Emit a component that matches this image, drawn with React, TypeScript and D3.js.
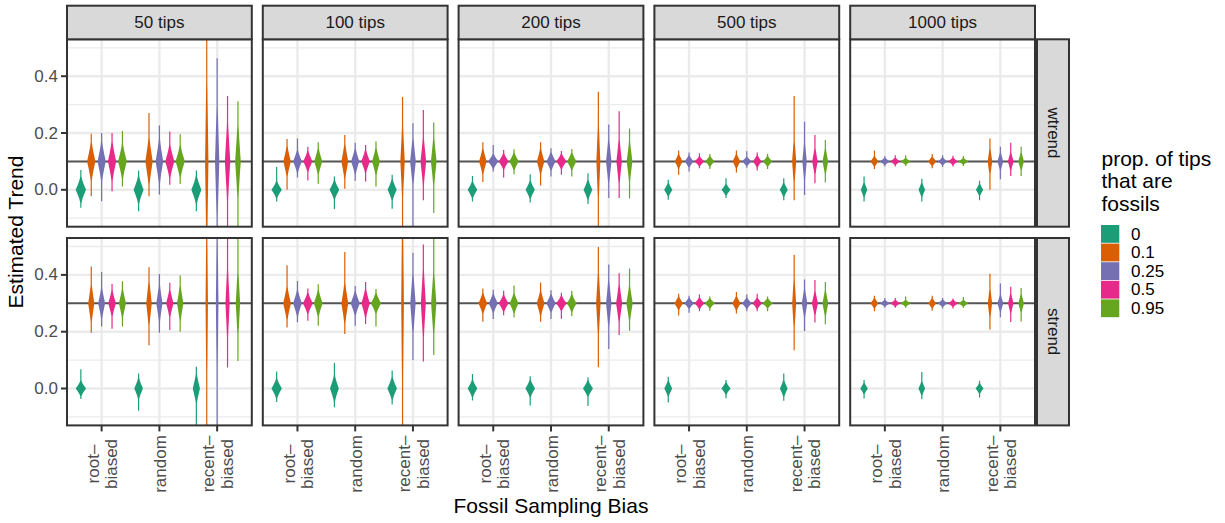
import React from 'react';
import * as d3 from 'd3';

const tipCounts = ['50 tips', '100 tips', '200 tips', '500 tips', '1000 tips'];
const trendTypes = ['wtrend', 'strend'];
const biasCategories = ['root-biased', 'random', 'recent-biased'];
const biasLabels = [['root–', 'biased'], ['random'], ['recent–', 'biased']];
const fossilProps = ['0', '0.1', '0.25', '0.5', '0.95'];
const propColors = ['#1B9E77', '#D95F02', '#7570B3', '#E7298A', '#66A61E'];
const yBreaks = [0, 0.2, 0.4];
const yMinor = [-0.1, 0.1, 0.3, 0.5];
const trueTrend = [0.1, 0.3];

// each violin: [mode, min, max]; order: root-biased x5 props, random x5, recent-biased x5
const wtrend50 = [
  [0, -0.063, 0.07], [0.1, -0.023, 0.197], [0.1, -0.04, 0.2], [0.1, -0.005, 0.2], [0.1, 0.012, 0.207],
  [0, -0.076, 0.068], [0.1, -0.023, 0.27], [0.1, -0.017, 0.226], [0.1, 0.018, 0.205], [0.1, 0.02, 0.196],
  [0, -0.076, 0.068], [0.1, -0.5, 0.9], [0.1, -0.4, 0.463], [0.1, -0.35, 0.33], [0.1, -0.35, 0.312],
];
const wtrend100 = [
  [0, -0.041, 0.08], [0.1, 0.0, 0.179], [0.1, 0.043, 0.181], [0.1, 0.033, 0.152], [0.1, 0.021, 0.167],
  [0, -0.068, 0.047], [0.1, 0.004, 0.193], [0.1, 0.032, 0.166], [0.1, 0.029, 0.158], [0.1, 0.012, 0.17],
  [0, -0.067, 0.053], [0.1, -0.3, 0.327], [0.1, -0.2, 0.234], [0.1, -0.037, 0.281], [0.1, -0.082, 0.237],
];
const wtrend200 = [
  [0, -0.041, 0.049], [0.1, 0.027, 0.167], [0.1, 0.064, 0.158], [0.1, 0.043, 0.14], [0.1, 0.055, 0.143],
  [0, -0.045, 0.055], [0.1, 0.015, 0.167], [0.1, 0.047, 0.146], [0.1, 0.053, 0.137], [0.1, 0.047, 0.144],
  [0, -0.05, 0.058], [0.1, -0.2, 0.345], [0.1, -0.029, 0.23], [0.1, -0.029, 0.277], [0.1, -0.031, 0.216],
];
const wtrend500 = [
  [0, -0.035, 0.035], [0.1, 0.053, 0.138], [0.1, 0.064, 0.131], [0.1, 0.076, 0.129], [0.1, 0.073, 0.126],
  [0, -0.029, 0.041], [0.1, 0.061, 0.138], [0.1, 0.078, 0.136], [0.1, 0.068, 0.131], [0.1, 0.073, 0.126],
  [0, -0.037, 0.041], [0.1, -0.037, 0.33], [0.1, -0.018, 0.24], [0.1, 0.023, 0.193], [0.1, 0.026, 0.175],
];
const wtrend1000 = [
  [0, -0.041, 0.047], [0.1, 0.073, 0.138], [0.1, 0.082, 0.119], [0.1, 0.082, 0.122], [0.1, 0.084, 0.122],
  [0, -0.041, 0.039], [0.1, 0.076, 0.126], [0.1, 0.08, 0.122], [0.1, 0.082, 0.12], [0.1, 0.084, 0.119],
  [0, -0.037, 0.032], [0.1, 0.0, 0.181], [0.1, 0.037, 0.152], [0.1, 0.049, 0.166], [0.1, 0.049, 0.152],
];
const strend50 = [
  [0, -0.037, 0.068], [0.3, 0.196, 0.43], [0.3, 0.218, 0.41], [0.3, 0.21, 0.368], [0.3, 0.218, 0.378],
  [0, -0.078, 0.053], [0.3, 0.152, 0.427], [0.3, 0.196, 0.403], [0.3, 0.206, 0.372], [0.3, 0.2, 0.398],
  [0, -0.3, 0.077], [0.3, -0.5, 1.0], [0.3, -0.3, 0.9], [0.3, 0.074, 0.8], [0.3, 0.097, 0.75],
];
const strend100 = [
  [0, -0.048, 0.06], [0.3, 0.215, 0.434], [0.3, 0.233, 0.379], [0.3, 0.239, 0.352], [0.3, 0.221, 0.367],
  [0, -0.066, 0.09], [0.3, 0.192, 0.481], [0.3, 0.221, 0.361], [0.3, 0.227, 0.375], [0.3, 0.218, 0.35],
  [0, -0.056, 0.063], [0.3, -0.5, 1.0], [0.3, 0.1, 0.478], [0.3, 0.095, 0.507], [0.3, 0.118, 0.7],
];
const strend200 = [
  [0, -0.042, 0.051], [0.3, 0.235, 0.352], [0.3, 0.245, 0.348], [0.3, 0.258, 0.344], [0.3, 0.25, 0.363],
  [0, -0.06, 0.043], [0.3, 0.235, 0.373], [0.3, 0.245, 0.346], [0.3, 0.246, 0.337], [0.3, 0.255, 0.344],
  [0, -0.062, 0.04], [0.3, 0.075, 0.498], [0.3, 0.139, 0.437], [0.3, 0.188, 0.406], [0.3, 0.203, 0.423],
];
const strend500 = [
  [0, -0.049, 0.041], [0.3, 0.257, 0.334], [0.3, 0.267, 0.327], [0.3, 0.272, 0.331], [0.3, 0.274, 0.324],
  [0, -0.034, 0.03], [0.3, 0.264, 0.34], [0.3, 0.272, 0.331], [0.3, 0.272, 0.334], [0.3, 0.272, 0.324],
  [0, -0.043, 0.053], [0.3, 0.135, 0.471], [0.3, 0.202, 0.384], [0.3, 0.232, 0.382], [0.3, 0.226, 0.375],
];
const strend1000 = [
  [0, -0.035, 0.03], [0.3, 0.272, 0.327], [0.3, 0.284, 0.319], [0.3, 0.284, 0.319], [0.3, 0.284, 0.324],
  [0, -0.038, 0.058], [0.3, 0.274, 0.327], [0.3, 0.282, 0.319], [0.3, 0.282, 0.317], [0.3, 0.284, 0.322],
  [0, -0.032, 0.027], [0.3, 0.208, 0.404], [0.3, 0.251, 0.37], [0.3, 0.234, 0.358], [0.3, 0.236, 0.354],
];
const panelData = [
  [wtrend50, wtrend100, wtrend200, wtrend500, wtrend1000],
  [strend50, strend100, strend200, strend500, strend1000],
];

const FONT = "'Liberation Sans', Arial, Helvetica, sans-serif";
const W = 1225, H = 523;
const PL = 67, PR = 1035, PGAP = 11;
const PW = (PR - PL - 4 * PGAP) / 5;
const ROW_TOP = [39.3, 238];
const PH = 187.4;
const STRIP_TOP = 5.7;
const RSTRIP_X = 1037, RSTRIP_W = 32;

function bodySd(v: number[]) {
  const [m, lo, hi] = v;
  return Math.max(0.004, Math.min(m - lo, hi - m) / 2.6);
}

export default function App() {
  const yDomain: [number, number] = [-0.13, 0.53];
  const panels: React.ReactNode[] = [];

  trendTypes.forEach((tt, r) => {
    const top = ROW_TOP[r];
    const y = d3.scaleLinear().domain(yDomain).range([top + PH, top]);
    tipCounts.forEach((tc, c) => {
      const left = PL + c * (PW + PGAP);
      const x = d3.scalePoint<string>().domain(biasCategories).range([left, left + PW]).padding(0.6);
      const step = x.step();
      const data = panelData[r][c];
      const sds = data.map(bodySd);
      const sMin = d3.min(sds) as number;
      const halfMax = 0.09 * step;
      const clipId = `clip-${r}-${c}`;
      const violins = data.map((v, i) => {
        const cat = Math.floor(i / 5), p = i % 5;
        const cx = (x(biasCategories[cat]) as number) + (p - 2) * 0.18 * step;
        const [m, lo, hi] = v;
        const s = sds[i];
        const rel = Math.pow(sMin / s, 0.5);
        const n = 200;
        const vals = d3.range(n + 1).map(k => lo + (hi - lo) * k / n);
        const hw = (t: number) => {
          const z = (t - m) / s;
          const prof = 0.55 * Math.exp(-0.5 * z * z) + 0.45 * Math.exp(-1.3 * Math.abs(z));
          return Math.max(0.6, halfMax * rel * prof);
        };
        const area = d3.area<number>()
          .y(t => y(t))
          .x0(t => cx - hw(t))
          .x1(t => cx + hw(t));
        return <path key={i} d={area(vals) as string} fill={propColors[p]} />;
      });
      panels.push(
        <g key={`p-${r}-${c}`}>
          <defs>
            <clipPath id={clipId}>
              <rect x={left} y={top} width={PW} height={PH} />
            </clipPath>
          </defs>
          <rect x={left} y={top} width={PW} height={PH} fill="#fff" />
          {yMinor.map(t => (
            <line key={`mn${t}`} x1={left} x2={left + PW} y1={y(t)} y2={y(t)} stroke="#EBEBEB" strokeWidth={1.3} />
          ))}
          {yBreaks.map(t => (
            <line key={`mj${t}`} x1={left} x2={left + PW} y1={y(t)} y2={y(t)} stroke="#EBEBEB" strokeWidth={2.4} />
          ))}
          {biasCategories.map(bc => (
            <line key={`vx${bc}`} x1={x(bc)} x2={x(bc)} y1={top} y2={top + PH} stroke="#EBEBEB" strokeWidth={2.4} />
          ))}
          <g clipPath={`url(#${clipId})`}>
            <line x1={left} x2={left + PW} y1={y(trueTrend[r])} y2={y(trueTrend[r])} stroke="#555" strokeWidth={2} />
            {violins}
          </g>
          <rect x={left} y={top} width={PW} height={PH} fill="none" stroke="#333" strokeWidth={2} />
          {r === 0 && (
            <g>
              <rect x={left} y={STRIP_TOP} width={PW} height={top - STRIP_TOP} fill="#D9D9D9" stroke="#333" strokeWidth={2} />
              <text x={left + PW / 2} y={(STRIP_TOP + top) / 2} textAnchor="middle" dominantBaseline="central"
                fontFamily={FONT} fontSize={17} fill="#1A1A1A">{tc}</text>
            </g>
          )}
          {c === 0 && (
            <g>
              {yBreaks.map(t => (
                <g key={`yt${t}`}>
                  <line x1={left - 6} x2={left} y1={y(t)} y2={y(t)} stroke="#333" strokeWidth={2} />
                  <text x={left - 9} y={y(t)} textAnchor="end" dominantBaseline="central"
                    fontFamily={FONT} fontSize={17} fill="#4D4D4D">{d3.format('.1f')(t)}</text>
                </g>
              ))}
            </g>
          )}
          {r === 1 && (
            <g>
              {biasCategories.map((bc, k) => {
                const xx = x(bc) as number;
                const lines = biasLabels[k];
                return (
                  <g key={`xt${bc}`}>
                    <line x1={xx} x2={xx} y1={top + PH} y2={top + PH + 6} stroke="#333" strokeWidth={2} />
                    <text transform={`translate(${xx},464) rotate(-90)`} textAnchor="middle" dominantBaseline="central"
                      fontFamily={FONT} fontSize={17} fill="#4D4D4D">
                      {lines.map((ln, li) => (
                        <tspan key={li} x={0} y={(li - (lines.length - 1) / 2) * 18.5 + 0.5}>{ln}</tspan>
                      ))}
                    </text>
                  </g>
                );
              })}
            </g>
          )}
        </g>
      );
    });
    panels.push(
      <g key={`rs-${r}`}>
        <rect x={RSTRIP_X} y={top} width={RSTRIP_W} height={PH} fill="#D9D9D9" stroke="#333" strokeWidth={2} />
        <text transform={`translate(${RSTRIP_X + RSTRIP_W / 2},${top + PH / 2}) rotate(90)`} textAnchor="middle"
          dominantBaseline="central" fontFamily={FONT} fontSize={17} fill="#1A1A1A">{tt}</text>
      </g>
    );
  });

  const legendTitle = ['prop. of tips', 'that are', 'fossils'];

  return (
    <svg width={W} height={H} style={{ position: 'absolute', left: 0, top: 0, background: '#fff' }}>
      <rect x={0} y={0} width={W} height={H} fill="#fff" />
      {panels}
      <text transform={`translate(23,232) rotate(-90)`} textAnchor="middle" fontFamily={FONT} fontSize={21} fill="#000">
        Estimated Trend
      </text>
      <text x={(PL + PR) / 2} y={513} textAnchor="middle" fontFamily={FONT} fontSize={21} fill="#000">
        Fossil Sampling Bias
      </text>
      <g>
        {legendTitle.map((t, i) => (
          <text key={t} x={1101.5} y={165.5 + i * 22.6} fontFamily={FONT} fontSize={21} fill="#000">{t}</text>
        ))}
        {fossilProps.map((fp, i) => (
          <g key={fp}>
            <rect x={1101} y={225 + i * 18.6} width={18.3} height={17.8} fill={propColors[i]} />
            <text x={1131} y={225 + i * 18.6 + 9} dominantBaseline="central" fontFamily={FONT} fontSize={17} fill="#000">{fp}</text>
          </g>
        ))}
      </g>
    </svg>
  );
}
